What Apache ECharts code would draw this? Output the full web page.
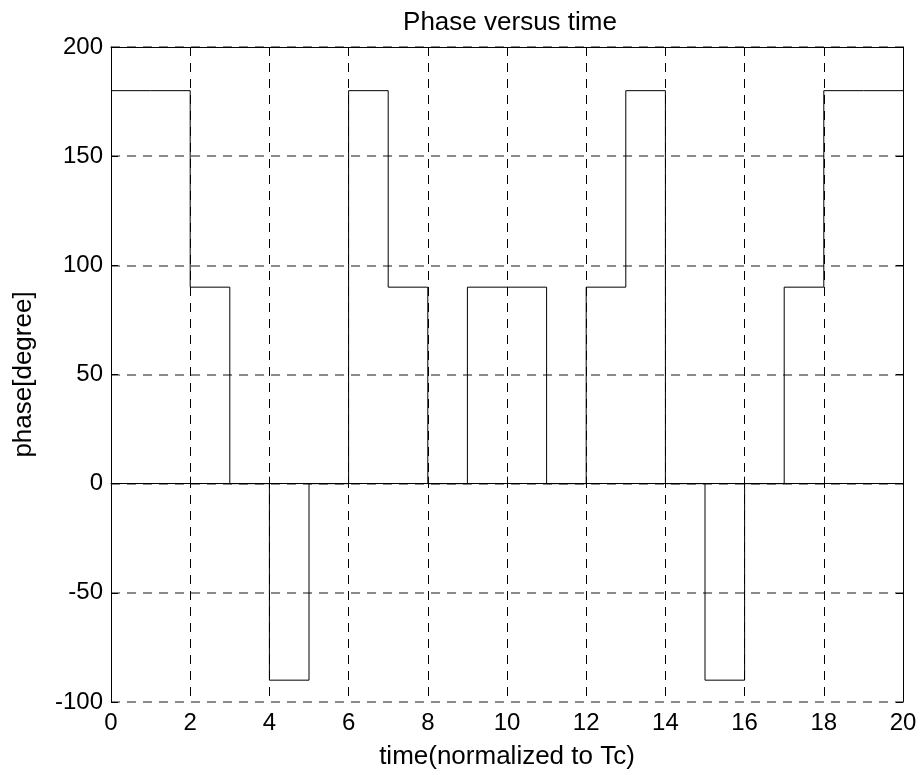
<!DOCTYPE html>
<html>
<head>
<meta charset="utf-8">
<script src="https://cdn.jsdelivr.net/npm/echarts@6/dist/echarts.min.js"></script>
<style>html,body{margin:0;padding:0;background:#fff}#c{width:921px;height:775px}</style>
</head>
<body>
<div id="c"></div>
<script>
// time instants (normalized to Tc) and phase held from that instant until the next
const times = [0,1,2,3,4,5,6,7,8,9,10,11,12,13,14,15,16,17,18,19,20];
const phases = [180,180,90,0,-90,0,180,90,0,90,90,0,90,180,0,-90,0,90,180,180,180];
const xTicks = [0,2,4,6,8,10,12,14,16,18,20];
const yTicks = [-100,-50,0,50,100,150,200];

const FONT = 'Liberation Sans, Arial, sans-serif';
const data = times.map((t, i) => [t, phases[i]]);

const chart = echarts.init(document.getElementById('c'), null, {renderer: 'canvas'});
chart.setOption({
  backgroundColor: '#fff',
  animation: false,
  title: {
    text: 'Phase versus time',
    left: 505, top: 5, textAlign: 'center',
    textStyle: {fontFamily: FONT, fontSize: 26, fontWeight: 'normal', color: '#000'}
  },
  grid: {left: 111, right: 18, top: 47, bottom: 71, containLabel: false},
  xAxis: [{
    type: 'value', min: xTicks[0], max: xTicks[xTicks.length-1], interval: 2,
    position: 'bottom',
    name: 'time(normalized to Tc)', nameLocation: 'middle', nameGap: 42,
    nameTextStyle: {fontFamily: FONT, fontSize: 26, color: '#000'},
    axisLine: {show: true, lineStyle: {color: '#000', width: 1}},
    axisTick: {show: true, inside: true, length: 7, lineStyle: {color: '#000'}},
    axisLabel: {fontFamily: FONT, fontSize: 24, color: '#000', margin: 9},
    splitLine: {show: true, lineStyle: {color: '#000', type: [9, 7], width: 1}}
  }, {
    type: 'value', min: xTicks[0], max: xTicks[xTicks.length-1], interval: 2,
    position: 'top',
    axisLine: {show: true, onZero: false, lineStyle: {color: '#000', width: 1}},
    axisTick: {show: true, inside: true, length: 7, lineStyle: {color: '#000'}},
    axisLabel: {show: false}, splitLine: {show: false}
  }],
  yAxis: [{
    type: 'value', min: yTicks[0], max: yTicks[yTicks.length-1], interval: 50,
    position: 'left',
    name: 'phase[degree]', nameLocation: 'middle', nameGap: 74, nameRotate: 90,
    nameTextStyle: {fontFamily: FONT, fontSize: 26, color: '#000'},
    axisLine: {show: true, onZero: false, lineStyle: {color: '#000', width: 1}},
    axisTick: {show: true, inside: true, length: 7, lineStyle: {color: '#000'}},
    axisLabel: {fontFamily: FONT, fontSize: 24, color: '#000', margin: 8},
    splitLine: {show: true, lineStyle: {color: '#8a8a8a', type: [9, 7], width: 2}}
  }, {
    type: 'value', min: yTicks[0], max: yTicks[yTicks.length-1], interval: 50,
    position: 'right',
    axisLine: {show: true, onZero: false, lineStyle: {color: '#000', width: 1}},
    axisTick: {show: true, inside: true, length: 7, lineStyle: {color: '#000'}},
    axisLabel: {show: false}, splitLine: {show: false}
  }],
  series: [{
    type: 'line', step: 'end', data: data,
    xAxisIndex: 0, yAxisIndex: 0,
    symbol: 'none', lineStyle: {color: '#000', width: 1}
  }]
});
</script>
</body>
</html>
